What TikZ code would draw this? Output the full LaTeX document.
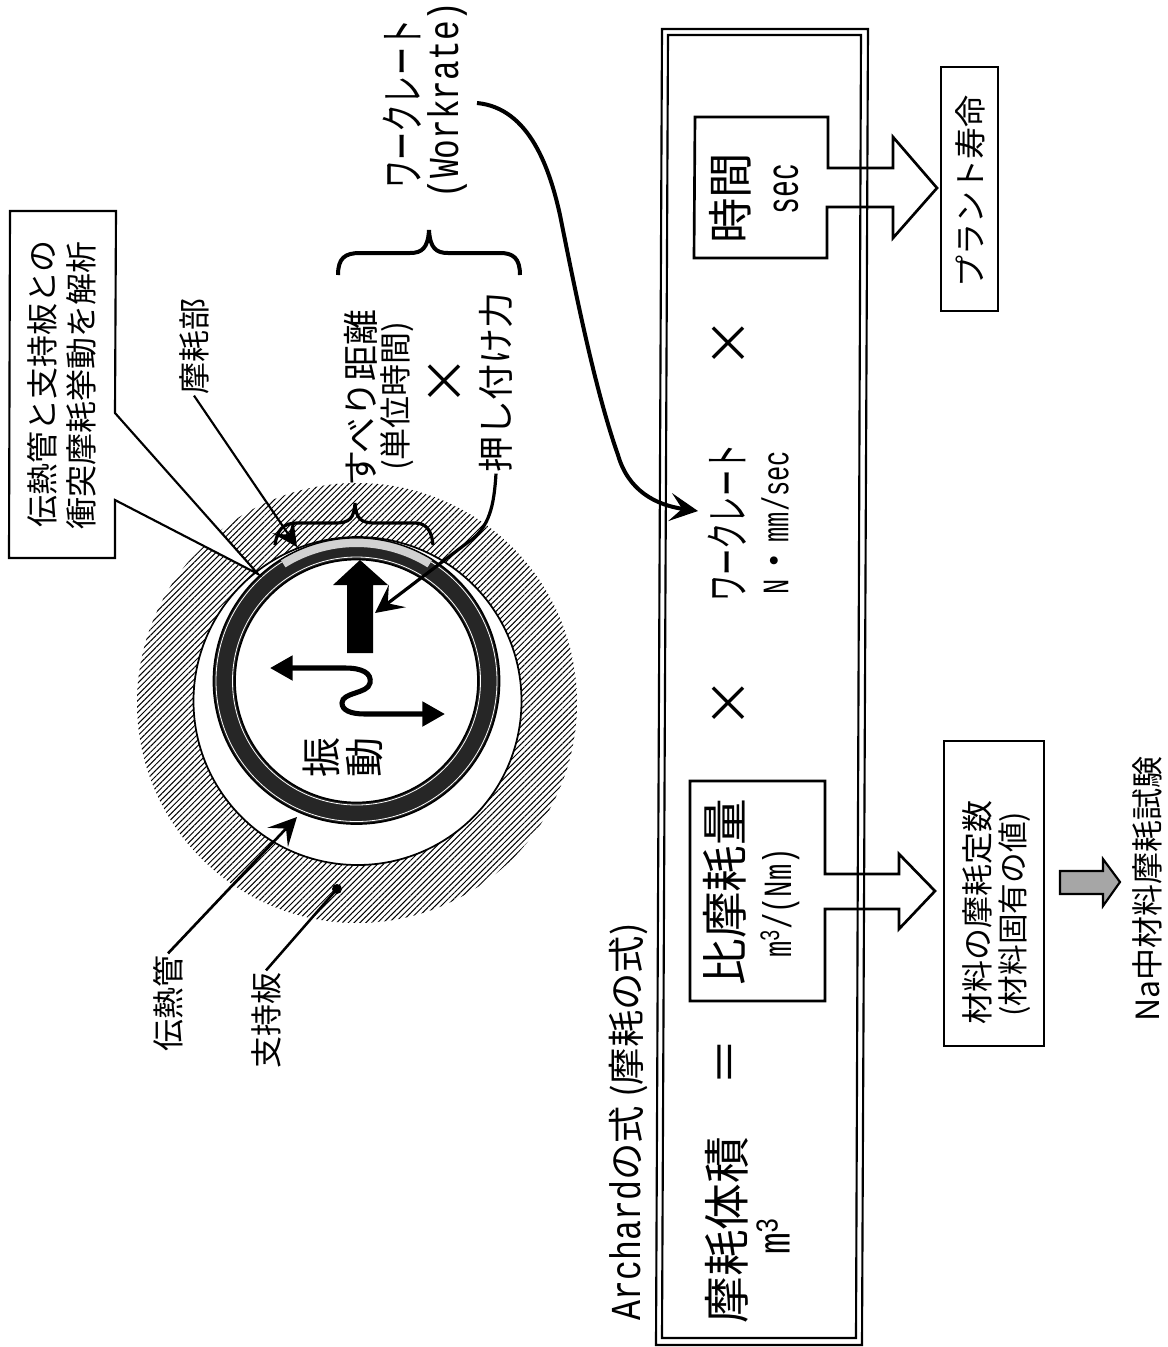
\documentclass[tikz,border=0pt]{standalone}
\usepackage{fontspec}
\usepackage{graphicx}
\setmainfont{Noto Sans CJK JP}
\newfontfamily\latinfont{Liberation Mono}
\usetikzlibrary{calc, positioning}
\usetikzlibrary{arrows.meta}
\usetikzlibrary{patterns.meta}
\newcommand{\slim}[2][0.72]{\scalebox{#1}[1]{\latinfont #2}}
\newcommand{\kana}[2][0.58]{\scalebox{#1}[1]{#2}}
\tikzset{
  lbl/.style={rotate=90, inner sep=1pt, align=center},
  txtbig/.style={lbl, font=\fontsize{35}{38}\selectfont},
  txtmid/.style={lbl, font=\fontsize{27}{30}\selectfont},
  txtsmall/.style={lbl, font=\fontsize{24}{27}\selectfont},
  txttimes/.style={lbl, font=\fontsize{38}{40}\selectfont},
  frameline/.style={line width=1.6pt},
  boxline/.style={line width=2pt},
  leader/.style={line width=1.9pt},
  pointer/.style={line width=2pt, -{Stealth[length=21pt, width=21pt, inset=9pt]}},
  bracecurve/.style={line width=2.4pt}
}
\begin{document}
\begin{tikzpicture}[x=0.75pt, y=-0.75pt]
\useasboundingbox (0,0) rectangle (1168,1347);

\coordinate (Rim) at (357,703);
\coordinate (Bore) at (357.5,701);
\coordinate (Tube) at (356.5,681);

\fill[pattern={Lines[angle=45, distance=3.1pt, line width=0.75pt]}, pattern color=black] (Rim) circle[radius=220];
\draw[fill=white, line width=1.3pt] (Bore) circle[radius=164];
\draw[fill=black!85, line width=1.3pt] (Tube) circle[radius=143];
\draw[white, line width=0.6pt] (Tube) circle[radius=140.5];
\draw[white, line width=0.6pt] (Tube) circle[radius=124];
\draw[fill=white, line width=1.3pt] (Tube) circle[radius=121.5];
\fill[black!18] ($(Tube)+(-58:143)$) arc[start angle=-58, end angle=-122, radius=143] -- ($(Tube)+(-122:134)$) arc[start angle=-122, end angle=-58, radius=134] -- cycle;
\draw[line width=0.8pt] ($(Tube)+(-58:143)$) arc[start angle=-58, end angle=-122, radius=143];

\fill (347,653) -- (347,585) -- (333,585) -- (360,560) -- (388,585) -- (373,585) -- (373,653) -- cycle;
\draw[line width=3.8pt, {Triangle[length=17pt, width=18pt]}-{Triangle[length=17pt, width=18pt]}] (270,668) -- (345,668) .. controls (362,668) and (372,673) .. (370,683) .. controls (368,694) and (342,692) .. (342,703) .. controls (342,710) and (350,714) .. (365,714) -- (445,714);
\node[lbl, font=\fontsize{30}{32}\selectfont] (vibLabel) at (343,757) {振\\動};

\draw[boxline, line width=1.6pt, fill=white] (10,211) -- (116,211) -- (115,413) -- (258,574) -- (115,500) -- (115,558) -- (9,558) -- cycle;
\node[txtsmall] (noteTop) at (42,384) {伝熱管と支持板との};
\node[txtsmall] (noteBottom) at (81,385) {衝突摩耗挙動を解析};

\node[txtsmall] (wearLabel) at (194,346) {摩耗部};
\coordinate (wearTip) at (297,547);
\draw[leader, line width=1.6pt, -{Stealth[length=19pt, width=19pt, inset=8pt]}] (wearLabel.west) -- (wearTip);

\draw[bracecurve] (275,545) .. controls (277,530) and (283,523) .. (297,523) -- (335,523) .. controls (350,523) and (354,518) .. (355,503) .. controls (356,518) and (360,523) .. (375,523) -- (415,523) .. controls (427,523) and (432,532) .. (433,545);

\node[txtmid] (slideLabel) at (361,398) {すべり距離};
\node[lbl, font=\fontsize{24}{26}\selectfont] (unitLabel) at (397,396) {(単位時間)};
\node[txttimes] (timesA) at (446,381) {×};
\node[txtmid] (pressLabel) at (496,382) {押し付け力};
\coordinate (pressTip) at (375,613);
\draw[pointer, line width=2.4pt] (pressLabel.west) .. controls (494,505) and (490,528) .. (467,543) -- (pressTip);

\draw[line width=3pt] (338,275) .. controls (338,258) and (345,253) .. (360,253) -- (410,253) .. controls (422,253) and (428,248) .. (429,230) .. controls (430,248) and (436,253) .. (448,253) -- (500,253) .. controls (513,253) and (520,258) .. (520,275);

\node[lbl, font=\fontsize{34}{36}\selectfont] (rateLabel) at (402,104) {\kana[0.62]{ワークレート}};
\node[lbl, font=\fontsize{32}{34}\selectfont] (rateLatin) at (447,100) {\slim[0.77]{(Workrate)}};
\coordinate (rateStart) at (477,103);
\coordinate (rateTip) at (698,511);
\draw[pointer, line width=3pt] (rateStart) .. controls (530,108) and (550,170) .. (560,215) .. controls (575,290) and (595,390) .. (618,455) .. controls (628,490) and (655,505) .. (rateTip);

\node[txtsmall] (tubeLabel) at (168,1003) {伝熱管};
\coordinate (tubeTip) at (297,817);
\draw[pointer] (tubeLabel.east) -- (tubeTip);
\node[txtsmall] (plateLabel) at (266,1020) {支持板};
\fill (337,889) circle[radius=5] coordinate (plateDot);
\draw[leader] (plateLabel.east) -- (plateDot);

\draw[frameline] (662,29) -- (868,29) -- (862,1345) -- (656,1345) -- cycle;
\draw[frameline] (668,35) -- (861,35) -- (856,1338) -- (662,1338) -- cycle;

\node[lbl, font=\fontsize{28}{30}\selectfont] (titleLabel) at (628,1122) {{\fontsize{32}{34}\selectfont\slim[0.78]{Archard}}の式 (摩耗の式)};

\node[txtbig] (volLabel) at (727,1230) {摩耗体積};
\node[lbl, font=\fontsize{34}{36}\selectfont] (volUnit) at (773,1236) {\slim[0.8]{m\textsuperscript{3}}};
\node[txtbig] (eqLabel) at (730,1062) {＝};

\draw[boxline] (690,781) -- (825,781) -- (825,874) -- (899,874) -- (899,854) -- (935,891) -- (899,929) -- (899,909) -- (825,909) -- (825,1001) -- (690,1001) -- cycle;
\node[txtbig] (rateVolLabel) at (725,892) {比摩耗量};
\node[lbl, font=\fontsize{30}{32}\selectfont] (rateVolUnit) at (780,903) {\slim[0.68]{m\textsuperscript{3}/(Nm)}};

\node[txttimes] (timesB) at (730,703) {×};
\node[lbl, font=\fontsize{34}{36}\selectfont] (workLabel) at (727,523) {\kana{ワークレート}};
\node[lbl, font=\fontsize{28}{30}\selectfont] (workUnit) at (775,523) {\slim[0.68]{N}・\slim[0.68]{mm/sec}};
\node[txttimes] (timesC) at (730,343) {×};

\draw[boxline] (695,117) -- (828,117) -- (828,168) -- (893,168) -- (893,137) -- (937,188) -- (893,238) -- (893,207) -- (827,207) -- (827,258) -- (694,258) -- cycle;
\node[lbl, font=\fontsize{34}{36}\selectfont] (timeLabel) at (730,198) {時間};
\node[lbl, font=\fontsize{34}{36}\selectfont] (timeUnit) at (786,189) {\slim[0.62]{sec}};

\draw[boxline] (941,67) rectangle (998,311);
\node[txtsmall] (lifeLabel) at (970,191) {プラント寿命};

\draw[boxline] (944,741) rectangle (1044,1046);
\node[txtsmall] (constLabel) at (977,912) {材料の摩耗定数};
\node[lbl, font=\fontsize{23}{25}\selectfont] (constNote) at (1015,914) {(材料固有の値)};

\draw[line width=1.6pt, fill=black!35] (1060,871) -- (1103,871) -- (1103,859) -- (1120,882) -- (1103,906) -- (1103,894) -- (1060,894) -- cycle;
\node[txtsmall] (testLabel) at (1147,889) {Na中材料摩耗試験};
\end{tikzpicture}
\end{document}
